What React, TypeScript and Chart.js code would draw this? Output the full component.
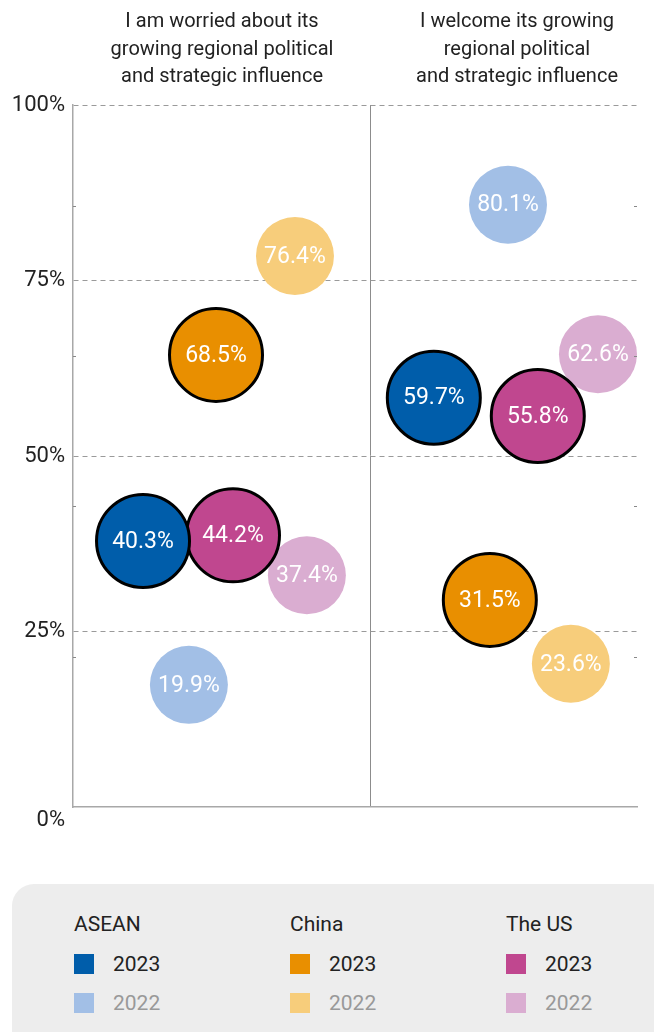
import React, { useEffect, useRef } from "react";
import { Chart, registerables } from "chart.js";

Chart.register(...registerables);

// ---- data ----
const categories = ["ASEAN", "China", "The US"];
const years = ["2023", "2022"];
const panelTitles = [
  ["I am worried about its", "growing regional political", "and strategic influence"],
  ["I welcome its growing", "regional political", "and strategic influence"],
];

// labelled shares (%)
const worried2023 = [40.3, 68.5, 44.2];
const welcome2023 = [59.7, 31.5, 55.8];
const worried2022 = [19.9, 76.4, 37.4];
const welcome2022 = [80.1, 23.6, 62.6];

// bubble positions as drawn in the reference (x: panel units, y: % axis)
const worriedX2023 = [0.235, 0.48, 0.537];
const worriedY2023 = [37.9, 64.4, 38.7];
const welcomeX2023 = [1.211, 1.399, 1.56];
const welcomeY2023 = [58.3, 29.5, 55.7];
const worriedX2022 = [0.389, 0.745, 0.785];
const worriedY2022 = [17.4, 78.5, 33.0];
const welcomeX2022 = [1.46, 1.671, 1.762];
const welcomeY2022 = [85.8, 20.4, 64.5];

const colors2023 = ["#005DAA", "#E98F00", "#C0478F"];
const colors2022 = ["#A2BFE6", "#F7CD7B", "#DAADD1"];

const yTicks = [0, 25, 50, 75, 100];
const minorTicks = [1, 2, 3, 4];
const xMax = 1.893;
const dividerAt = 1;

const FONT = "Roboto, 'Noto Sans', sans-serif";

export default function App() {
  const ref = useRef<HTMLCanvasElement | null>(null);

  useEffect(() => {
    document.body.style.margin = "0";
    const canvas = ref.current;
    if (!canvas) return;

    const datasets: any[] = [];
    categories.forEach((cat, i) => {
      datasets.push({
        label: `${cat} 2023`,
        data: [
          { x: worriedX2023[i], y: worriedY2023[i], v: worried2023[i] },
          { x: welcomeX2023[i], y: welcomeY2023[i], v: welcome2023[i] },
        ],
        backgroundColor: colors2023[i],
        borderColor: "#000",
        borderWidth: 3,
        radius: 46.5,
        hoverRadius: 0,
      });
    });
    categories.forEach((cat, i) => {
      datasets.push({
        label: `${cat} 2022`,
        data: [
          { x: worriedX2022[i], y: worriedY2022[i], v: worried2022[i] },
          { x: welcomeX2022[i], y: welcomeY2022[i], v: welcome2022[i] },
        ],
        backgroundColor: colors2022[i],
        borderWidth: 0,
        radius: 39,
        hoverRadius: 0,
      });
    });

    const labelPlugin = {
      id: "bubbleLabels",
      afterDatasetDraw(chart: any, args: any) {
        const ctx = chart.ctx;
        const ds = chart.data.datasets[args.index];
        ctx.save();
        ctx.fillStyle = "#ffffff";
        ctx.font = `23px ${FONT}`;
        ctx.textAlign = "center";
        ctx.textBaseline = "middle";
        args.meta.data.forEach((el: any, j: number) => {
          ctx.fillText(`${ds.data[j].v.toFixed(1)}%`, el.x, el.y + 1);
        });
        ctx.restore();
      },
    };

    const minorTickPlugin = {
      id: "minorTicks",
      afterDraw(chart: any) {
        const ctx = chart.ctx;
        const s = chart.scales.y2;
        const { left, right } = chart.chartArea;
        ctx.save();
        ctx.strokeStyle = "#888";
        ctx.lineWidth = 1;
        minorTicks.forEach((t) => {
          const py = Math.round(s.getPixelForValue(t)) + 0.5;
          ctx.beginPath();
          ctx.moveTo(left, py);
          ctx.lineTo(left + 3, py);
          ctx.moveTo(right - 3, py);
          ctx.lineTo(right, py);
          ctx.stroke();
        });
        ctx.restore();
      },
    };

    const chart = new Chart(canvas, {
      type: "bubble",
      data: { datasets },
      options: {
        animation: false,
        responsive: false,
        devicePixelRatio: 1,
        layout: { autoPadding: false, padding: { top: 105, right: 17, bottom: 63, left: 0 } },
        plugins: {
          legend: { display: false },
          tooltip: { enabled: false },
          title: { display: false },
        },
        events: [],
        scales: {
          x: {
            type: "linear",
            min: 0,
            max: xMax,
            position: "bottom",
            afterBuildTicks: (scale: any) => {
              scale.ticks = [{ value: dividerAt }];
            },
            afterFit: (scale: any) => {
              scale.height = 0;
            },
            ticks: { display: false },
            grid: {
              drawTicks: false,
              color: "#8c8c8c",
              lineWidth: 1,
            },
            border: { display: true, color: "#a8a8a8", width: 1.5 },
          },
          y: {
            type: "linear",
            min: 0,
            max: 100,
            position: "left",
            afterBuildTicks: (scale: any) => {
              scale.ticks = yTicks.map((v) => ({ value: v }));
            },
            afterFit: (scale: any) => {
              scale.width = 73;
            },
            ticks: {
              padding: 8,
              color: "#222",
              font: { family: FONT, size: 22 },
              callback: (v: any) => (v === 0 ? ["", "0%"] : `${v}%`),
            },
            grid: {
              drawTicks: false,
              color: (c: any) => (c.tick && c.tick.value === 0 ? "rgba(0,0,0,0)" : "#9a9a9a"),
              lineWidth: 1,
            },
            border: { display: true, color: "#a8a8a8", width: 1.5, dash: [5, 4] },
          },
          y2: {
            type: "linear",
            min: 0,
            max: 4.67,
            display: false,
          },
        },
      },
      plugins: [labelPlugin, minorTickPlugin],
    } as any);

    return () => chart.destroy();
  }, []);

  const titleCenters = [222, 517];

  return (
    <div
      style={{
        position: "absolute",
        left: 0,
        top: 0,
        width: 654,
        height: 1032,
        overflow: "hidden",
        background: "#fff",
        fontFamily: FONT,
      }}
    >
      <canvas
        ref={ref}
        width={654}
        height={870}
        style={{ position: "absolute", left: 0, top: 0, width: 654, height: 870 }}
      />
      {panelTitles.map((lines, k) => (
        <div
          key={k}
          style={{
            position: "absolute",
            left: titleCenters[k] - 160,
            top: 7,
            width: 320,
            textAlign: "center",
            fontSize: 20,
            lineHeight: "27.5px",
            color: "#222",
          }}
        >
          {lines.map((l, m) => (
            <div key={m}>{l}</div>
          ))}
        </div>
      ))}
      <div
        style={{
          position: "absolute",
          left: 12,
          top: 884,
          width: 660,
          height: 170,
          borderRadius: 22,
          background: "#EDEDED",
        }}
      />
      {categories.map((cat, i) => (
        <div
          key={cat}
          style={{ position: "absolute", left: 74 + i * 216, top: 910, width: 200 }}
        >
          <div style={{ fontSize: 21, lineHeight: "28px", color: "#222", height: 34 }}>{cat}</div>
          {years.map((yr, k) => (
            <div
              key={yr}
              style={{ display: "flex", alignItems: "center", height: 39 }}
            >
              <div
                style={{
                  width: 20,
                  height: 20,
                  background: k === 0 ? colors2023[i] : colors2022[i],
                  marginRight: 19,
                }}
              />
              <span style={{ fontSize: 21, color: k === 0 ? "#222" : "#999" }}>{yr}</span>
            </div>
          ))}
        </div>
      ))}
    </div>
  );
}
